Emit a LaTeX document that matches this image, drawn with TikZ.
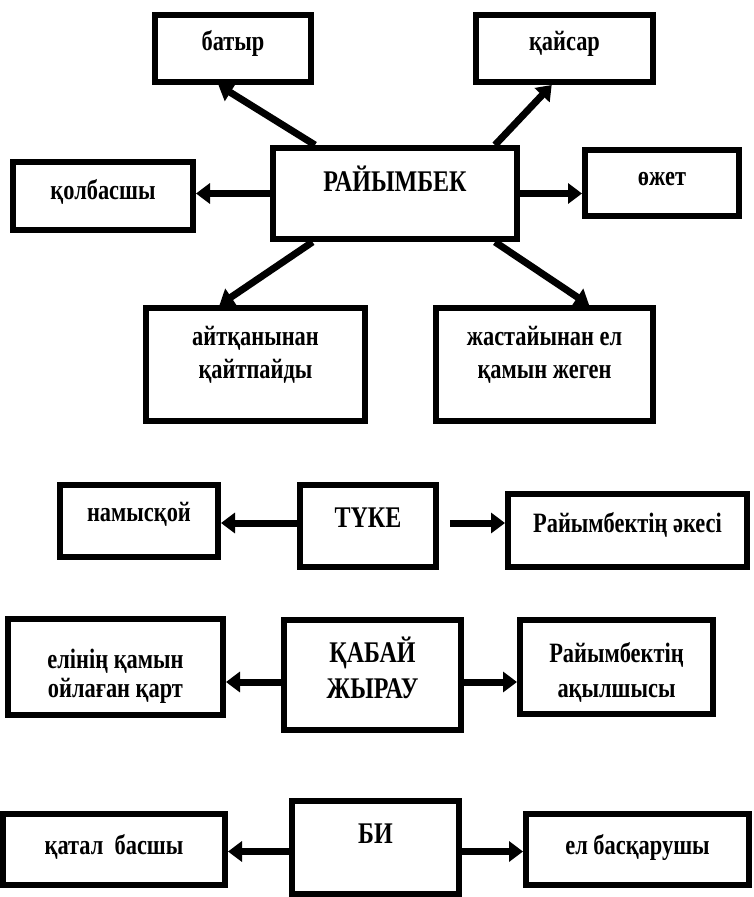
\documentclass[tikz,border=0pt]{standalone}
\usepackage{fontspec}
\setmainfont{Liberation Serif}[FakeStretch=0.8]
\usetikzlibrary{arrows.meta,calc,positioning}

\begin{document}
\begin{tikzpicture}[x=1pt,y=-1pt,line join=miter,
  box/.style={draw,rectangle,line width=6pt,inner sep=2pt,align=center,
    font=\fontsize{28}{32}\selectfont\bfseries},
  big/.style={font=\fontsize{30}{37}\selectfont\bfseries},
  arr/.style={line width=7pt,-{Triangle[width=20pt,length=14pt]}}]
\useasboundingbox (0,0) rectangle (754,897);
% Райымбек
\node[box,big,minimum width=244pt,minimum height=91pt,text depth=30pt] (rai) at (395,193.5) {РАЙЫМБЕК};
\node[box,minimum width=156pt,minimum height=67pt,text depth=16pt] (bat) at (233,48.5) {батыр};
\node[box,minimum width=177pt,minimum height=67pt,text depth=16pt] (qai) at (564.5,48.5) {қайсар};
\node[box,minimum width=180pt,minimum height=68pt,text depth=14pt] (qol) at (103,196) {қолбасшы};
\node[box,minimum width=154pt,minimum height=66pt,text depth=8pt] (ozh) at (662,183) {өжет};
\node[box,minimum width=219pt,minimum height=113pt,text height=52pt,text depth=25pt] (ait) at (255.5,364.5) {айтқанынан\\[1pt]қайтпайды};
\node[box,minimum width=217pt,minimum height=113pt,text height=52pt,text depth=25pt] (zha) at (544.5,364.5) {жастайынан ел\\[1pt]қамын жеген};
\draw[arr] ($(rai.north west)!0.18!(rai.north east)$) -- ($(bat.south west)!0.41!(bat.south east)$);
\draw[arr] ($(rai.north west)!0.9!(rai.north east)$) -- ($(qai.south west)!0.43!(qai.south east)$);
\draw[arr] (rai.west) -- (rai.west -| qol.east);
\draw[arr] (rai.east) -- (rai.east -| ozh.west);
\draw[arr] ($(rai.south west)!0.17!(rai.south east)$) -- ($(ait.north west)!0.34!(ait.north east)$);
\draw[arr] ($(rai.south west)!0.9!(rai.south east)$) -- ($(zha.north west)!0.7!(zha.north east)$);
% Түке
\node[box,big,minimum width=136pt,minimum height=82pt,text depth=16pt] (tuk) at (368,526) {ТҮКЕ};
\node[box,minimum width=158pt,minimum height=72pt,text depth=18pt] (nam) at (139,521) {намысқой};
\node[box,minimum width=239pt,minimum height=73pt,text depth=16pt] (ake) at (627.5,530.5) {Райымбектің әкесі};
\draw[arr] ($(tuk.west)+(0,-3)$) -- ($(tuk.west -| nam.east)+(0,-3)$);
\draw[arr,shorten <=11pt] ($(tuk.east)+(0,-3)$) -- ($(tuk.east -| ake.west)+(0,-3)$);
% Қабай жырау
\node[box,big,minimum width=177pt,minimum height=110pt,text height=49pt,text depth=3pt] (qab) at (372.5,675) {ҚАБАЙ\\[-1pt]ЖЫРАУ};
\node[box,minimum width=215pt,minimum height=96pt,text height=66pt,text depth=6pt] (eli) at (115.5,667) {елінің қамын\\[-3pt]ойлаған қарт};
\node[box,minimum width=193pt,minimum height=94pt,text height=66pt,text depth=6pt] (aqy) at (616.5,667) {Райымбектің\\[3pt]ақылшысы};
\draw[arr] ($(qab.west)+(0,7)$) -- ($(qab.west -| eli.east)+(0,7)$);
\draw[arr] ($(qab.east)+(0,7)$) -- ($(qab.east -| aqy.west)+(0,7)$);
% Би
\node[box,big,minimum width=167pt,minimum height=93pt,text depth=28pt] (bi) at (375.5,847.5) {БИ};
\node[box,minimum width=222pt,minimum height=71pt,text depth=10pt] (qat) at (114,849.5) {қатал~~басшы};
\node[box,minimum width=223pt,minimum height=71pt,text depth=10pt] (elb) at (637.5,849.5) {ел басқарушы};
\draw[arr] ($(bi.west)+(0,4)$) -- ($(bi.west -| qat.east)+(0,4)$);
\draw[arr] ($(bi.east)+(0,4)$) -- ($(bi.east -| elb.west)+(0,4)$);
\end{tikzpicture}
\end{document}
